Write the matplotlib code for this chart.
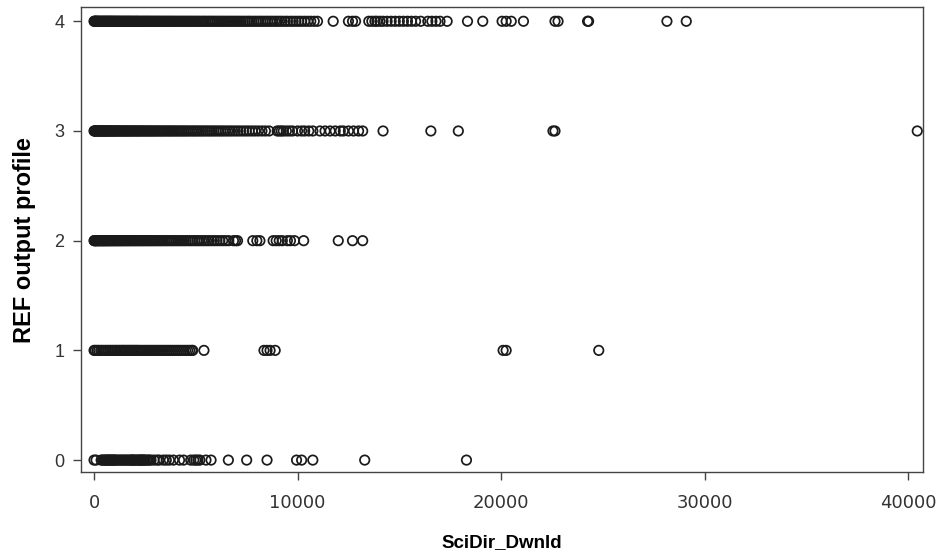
import matplotlib
matplotlib.use("Agg")
import matplotlib.pyplot as plt

# values (SciDir_Dwnld for each REF output profile)
x_prof4 = [0, 20, 50, 80, 110, 140, 170, 210, 250, 290, 330, 370, 410, 450, 490, 530,
           570, 610, 650, 690, 730, 770, 810, 850, 890, 930, 980, 1020, 1070, 1110, 1160,
           1200, 1250, 1300, 1350, 1400, 1450, 1500, 1550, 1600, 1650, 1700, 1750, 1800,
           1860, 1910, 1970, 2020, 2080, 2130, 2190, 2250, 2310, 2370, 2430, 2490, 2550,
           2610, 2670, 2730, 2790, 2860, 2920, 2990, 3050, 3120, 3180, 3250, 3320, 3390,
           3460, 3530, 3600, 3670, 3740, 3810, 3890, 3960, 4040, 4110, 4190, 4260, 4340,
           4420, 4500, 4580, 4660, 4740, 4820, 4900, 4990, 5070, 5150, 5240, 5330, 5410,
           5500, 5590, 5680, 5770, 5860, 5950, 6050, 6140, 6230, 6330, 6420, 6520, 6620,
           6720, 6820, 6920, 7020, 7120, 7220, 7330, 7430, 7540, 7640, 7750, 7860, 7970,
           8080, 8190, 8300, 8420, 8530, 8650, 8760, 8880, 9000, 9120, 9240, 9380, 9500,
           9650, 9780, 9920, 10060, 10200, 10350, 10500, 10650, 10820, 10980,
           11750, 12500, 12700, 12850, 13500, 13650, 13800, 13900, 14050, 14200, 14400,
           14600, 14800, 15000, 15200, 15400, 15600, 15800, 16050, 16400, 16600, 16800,
           17000, 17350, 18350, 19100, 20050, 20250, 20500, 21100, 22650, 22800, 24250,
           24300, 28150, 29100]
x_prof3 = [0, 20, 50, 80, 110, 140, 180, 220, 260, 300, 340, 380, 420, 460, 500, 540,
           580, 620, 660, 700, 740, 790, 830, 880, 920, 970, 1010, 1060, 1110, 1160, 1210,
           1260, 1310, 1360, 1410, 1470, 1520, 1580, 1630, 1690, 1740, 1800, 1860, 1920,
           1980, 2040, 2100, 2160, 2220, 2290, 2350, 2420, 2480, 2550, 2620, 2690, 2760,
           2830, 2900, 2970, 3040, 3120, 3190, 3270, 3340, 3420, 3500, 3580, 3660, 3740,
           3820, 3900, 3990, 4070, 4160, 4240, 4330, 4420, 4510, 4600, 4690, 4790, 4880,
           4980, 5070, 5170, 5270, 5370, 5470, 5570, 5680, 5780, 5890, 6000, 6110, 6220,
           6330, 6450, 6570, 6690, 6810, 6940, 7070, 7200, 7340, 7480, 7620, 7770, 7920,
           8080, 8250, 8420, 8600,
           9000, 9100, 9200, 9300, 9450, 9600, 9750, 10000, 10200, 10350, 10550, 10750,
           11100, 11350, 11600, 11850, 12100, 12250, 12500, 12750, 13000, 13200, 14200,
           16550, 17900, 22550, 22650, 40450]
x_prof2 = [0, 20, 50, 80, 110, 140, 180, 220, 260, 300, 340, 380, 420, 460, 500, 540,
           580, 620, 670, 710, 760, 800, 850, 900, 950, 1000, 1050, 1100, 1150, 1200,
           1260, 1310, 1370, 1420, 1480, 1540, 1600, 1660, 1720, 1780, 1840, 1910, 1970,
           2040, 2100, 2170, 2240, 2310, 2380, 2450, 2520, 2600, 2670, 2750, 2820, 2900,
           2980, 3060, 3140, 3220, 3310, 3390, 3480, 3570, 3660, 3750, 3840, 3930, 4030,
           4120, 4220, 4320, 4420, 4520, 4630, 4730, 4840, 4950, 5060, 5170, 5290, 5410,
           5530, 5650, 5780, 5910, 6040, 6180, 6320, 6470, 6620, 6850, 6950, 7050,
           7800, 8000, 8150, 8800, 8950, 9100, 9250, 9500, 9650, 9850, 10300, 12000,
           12700, 13200]
x_prof1 = [0, 60, 150, 230, 330, 420, 520, 600, 700, 780, 870, 960, 1050, 1130, 1220,
           1300, 1380, 1450, 1520, 1600, 1680, 1750, 1830, 1900, 1980, 2050, 2130, 2200,
           2300, 2400, 2500, 2600, 2700, 2800, 2900, 3000, 3100, 3200, 3300, 3400, 3500,
           3600, 3700, 3800, 3900, 4000, 4100, 4200, 4300, 4400, 4500, 4600, 4700, 4800,
           4850, 5400, 8350, 8500, 8650, 8900, 20100, 20250, 24800]
x_prof0 = [0, 100, 350, 420, 480, 550, 600, 650, 700, 750, 800, 850, 900, 950, 1000, 1050,
           1120, 1200, 1280, 1350, 1430, 1500, 1580, 1650, 1730, 1800, 1850, 1900, 1950,
           2000, 2080, 2150, 2200, 2250, 2300, 2350, 2400, 2450, 2500, 2580, 2650, 2720,
           2800, 2950, 3100, 3200, 3400, 3550, 3700, 3900, 4200, 4400, 4750, 4900, 5000,
           5100, 5200, 5500, 5750, 6600, 7500, 8500, 9950, 10200, 10750, 13300, 18300]

profiles = [0, 1, 2, 3, 4]
x_by_profile = [x_prof0, x_prof1, x_prof2, x_prof3, x_prof4]
x_ticks = [0, 10000, 20000, 30000, 40000]

fig = plt.figure(figsize=(9.42, 5.56), dpi=100)
ax = fig.add_axes([0.086, 0.151, 0.894, 0.836])

for p, xs in zip(profiles, x_by_profile):
    ax.scatter(xs, [p] * len(xs), s=46, facecolors="none", edgecolors="#1a1a1a",
               linewidths=1.25)

ax.set_xlim(-640, 40740)
ax.set_ylim(-0.109, 4.128)
ax.set_xticks(x_ticks)
ax.set_xticklabels([str(t) for t in x_ticks],
                   family=["Liberation Sans Narrow", "DejaVu Sans"], fontsize=13,
                   color="#333333")
ax.set_yticks(profiles)
ax.set_yticklabels([str(p) for p in profiles], family=["Liberation Sans", "DejaVu Sans"],
                   fontsize=13, color="#333333")
ax.tick_params(axis="x", direction="out", length=6, width=1, color="#444444", pad=10)
ax.tick_params(axis="y", direction="out", length=6, width=1, color="#444444", pad=6)

for s in ax.spines.values():
    s.set_color("#444444")
    s.set_linewidth(1)

ax.set_xlabel("SciDir_Dwnld", family=["Liberation Sans", "DejaVu Sans"],
              fontweight="bold", fontsize=13.5, labelpad=16)
ax.set_ylabel("REF output profile", family=["Liberation Sans", "DejaVu Sans"],
              fontweight="bold", fontsize=17, labelpad=13)

fig.savefig("out.png", dpi=100)
